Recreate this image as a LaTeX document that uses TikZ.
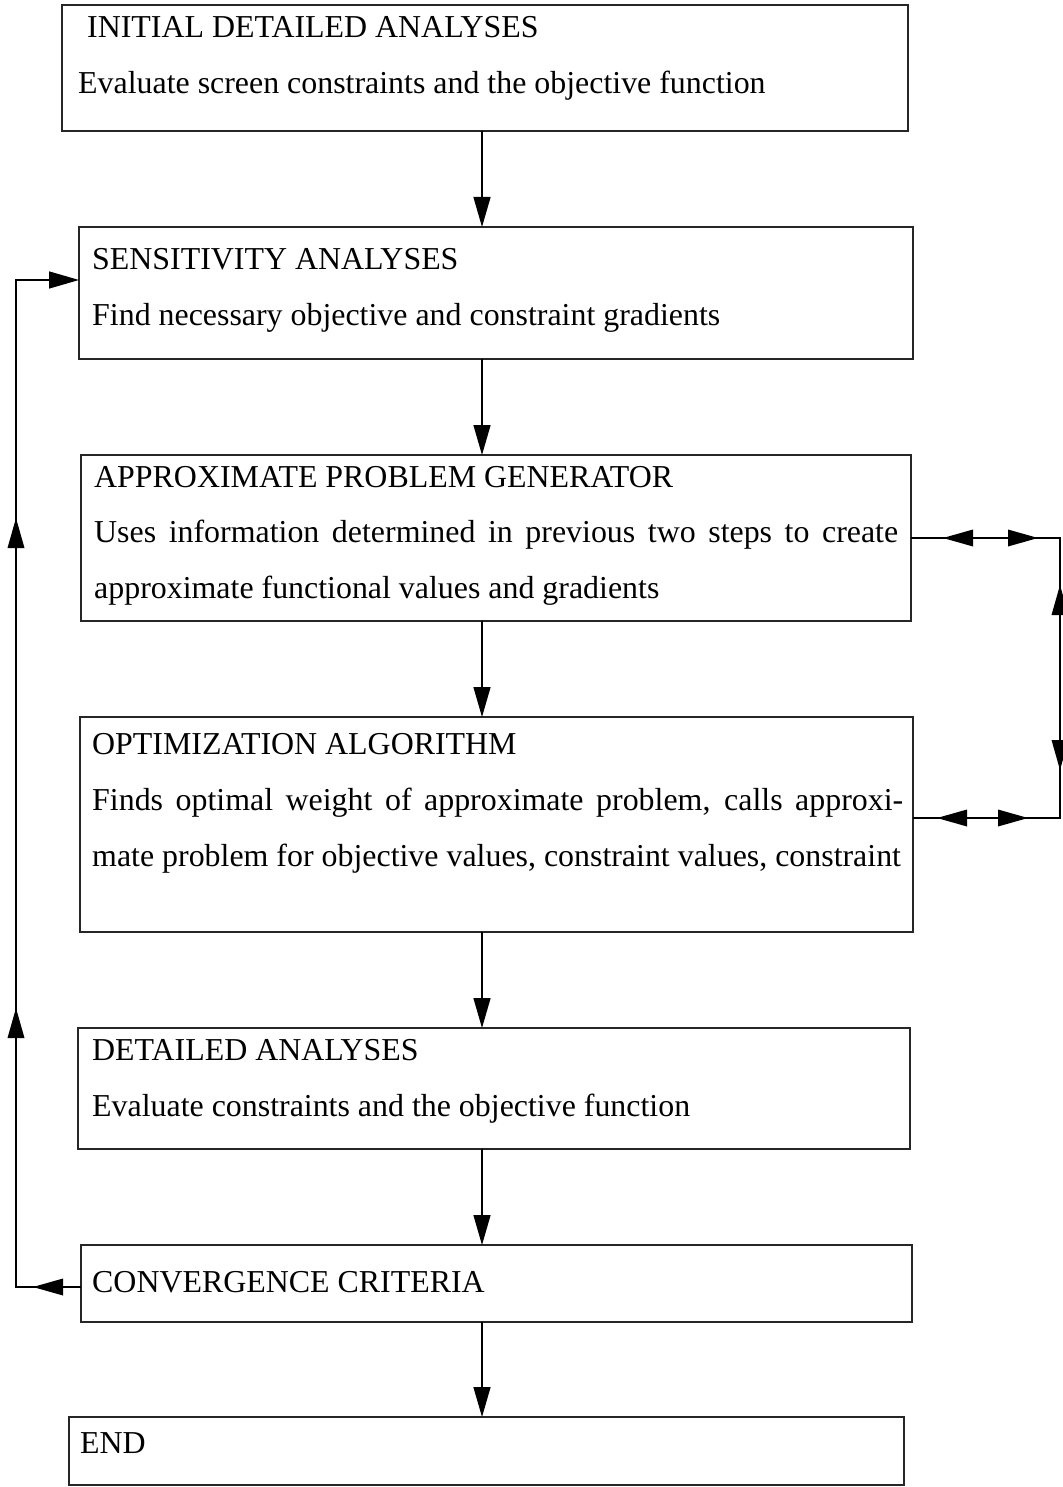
\documentclass[tikz,border=0pt]{standalone}
\usepackage{fontspec}
\setmainfont{Liberation Serif}
\usetikzlibrary{arrows.meta}
\begin{document}
\begin{tikzpicture}[x=1pt,y=-1pt,
  box/.style={draw=black!85,line width=1.3pt,rectangle,inner sep=0pt,outer sep=0pt,anchor=north west},
  txt/.style={anchor=base west,inner sep=0pt,font=\fontsize{31.9}{56}\selectfont},
  conn/.style={draw=black,line width=1.4pt},
  arr/.style={conn,-{Triangle[length=30pt,width=17pt]}},
  ahead/.pic={\fill[black] (0,0) -- (-30,8.5) -- (-30,-8.5) -- cycle;}]
\useasboundingbox (0,0) rectangle (1062,1487);
% boxes
\node[box,minimum width=846pt,minimum height=126pt] (b1) at (62,5) {};
\node[box,minimum width=834pt,minimum height=132pt] (b2) at (79,227) {};
\node[box,minimum width=830pt,minimum height=166pt] (b3) at (81,455) {};
\node[box,minimum width=833pt,minimum height=215pt] (b4) at (80,717) {};
\node[box,minimum width=832pt,minimum height=121pt] (b5) at (78,1028) {};
\node[box,minimum width=831pt,minimum height=77pt] (b6) at (81,1245) {};
\node[box,minimum width=835pt,minimum height=68pt] (b7) at (69,1417) {};
% texts
\node[txt] (t11) at (87,38) {INITIAL DETAILED ANALYSES};
\node[txt] (t12) at (78,94) {Evaluate screen constraints and the objective function};
\node[txt] (t21) at (92,270) {SENSITIVITY ANALYSES};
\node[txt] (t22) at (92,326) {Find necessary objective and constraint gradients};
\node[txt] (t31) at (94,487) {APPROXIMATE PROBLEM GENERATOR};
\node[txt] (t32) at (94,542.5) {\makebox[804pt][s]{Uses information determined in previous two steps to create}};
\node[txt] (t33) at (94,598) {approximate functional values and gradients};
\node[txt] (t41) at (92,754) {OPTIMIZATION ALGORITHM};
\node[txt] (t42) at (92,810) {\makebox[811pt][s]{Finds optimal weight of approximate problem, calls approxi-}};
\node[txt] (t43) at (92,866) {mate problem for objective values, constraint values, constraint};
\node[txt] (t51) at (92,1060) {DETAILED ANALYSES};
\node[txt] (t52) at (92,1116) {Evaluate constraints and the objective function};
\node[txt] (t61) at (92,1292) {CONVERGENCE CRITERIA};
\node[txt] (t71) at (80,1453) {END};
% vertical flow
\coordinate (X) at (482,0);
\draw[arr] (b1.south -| X) -- (b2.north -| X);
\draw[arr] (b2.south -| X) -- (b3.north -| X);
\draw[arr] (b3.south -| X) -- (b4.north -| X);
\draw[arr] (b4.south -| X) -- (b5.north -| X);
\draw[arr] (b5.south -| X) -- (b6.north -| X);
\draw[arr] (b6.south -| X) -- (b7.north -| X);
% right loop
\draw[conn] (b3.east) -- ++(149,0) |- ([yshift=6.5pt]b4.east);
\pic[rotate=180] at (943,538) {ahead};
\pic at (1038,538) {ahead};
\pic[rotate=90] at (1060,585) {ahead};
\pic[rotate=-90] at (1060,770) {ahead};
\pic[rotate=180] at (937,818) {ahead};
\pic at (1028,818) {ahead};
% left loop
\draw[arr] ([yshift=-3.5pt]b6.west) -- ++(-65,0) |- ([yshift=13pt]b2.west);
\pic[rotate=180] at (33,1287) {ahead};
\pic[rotate=90] at (16,1008) {ahead};
\pic[rotate=90] at (16,518) {ahead};
\end{tikzpicture}
\end{document}
